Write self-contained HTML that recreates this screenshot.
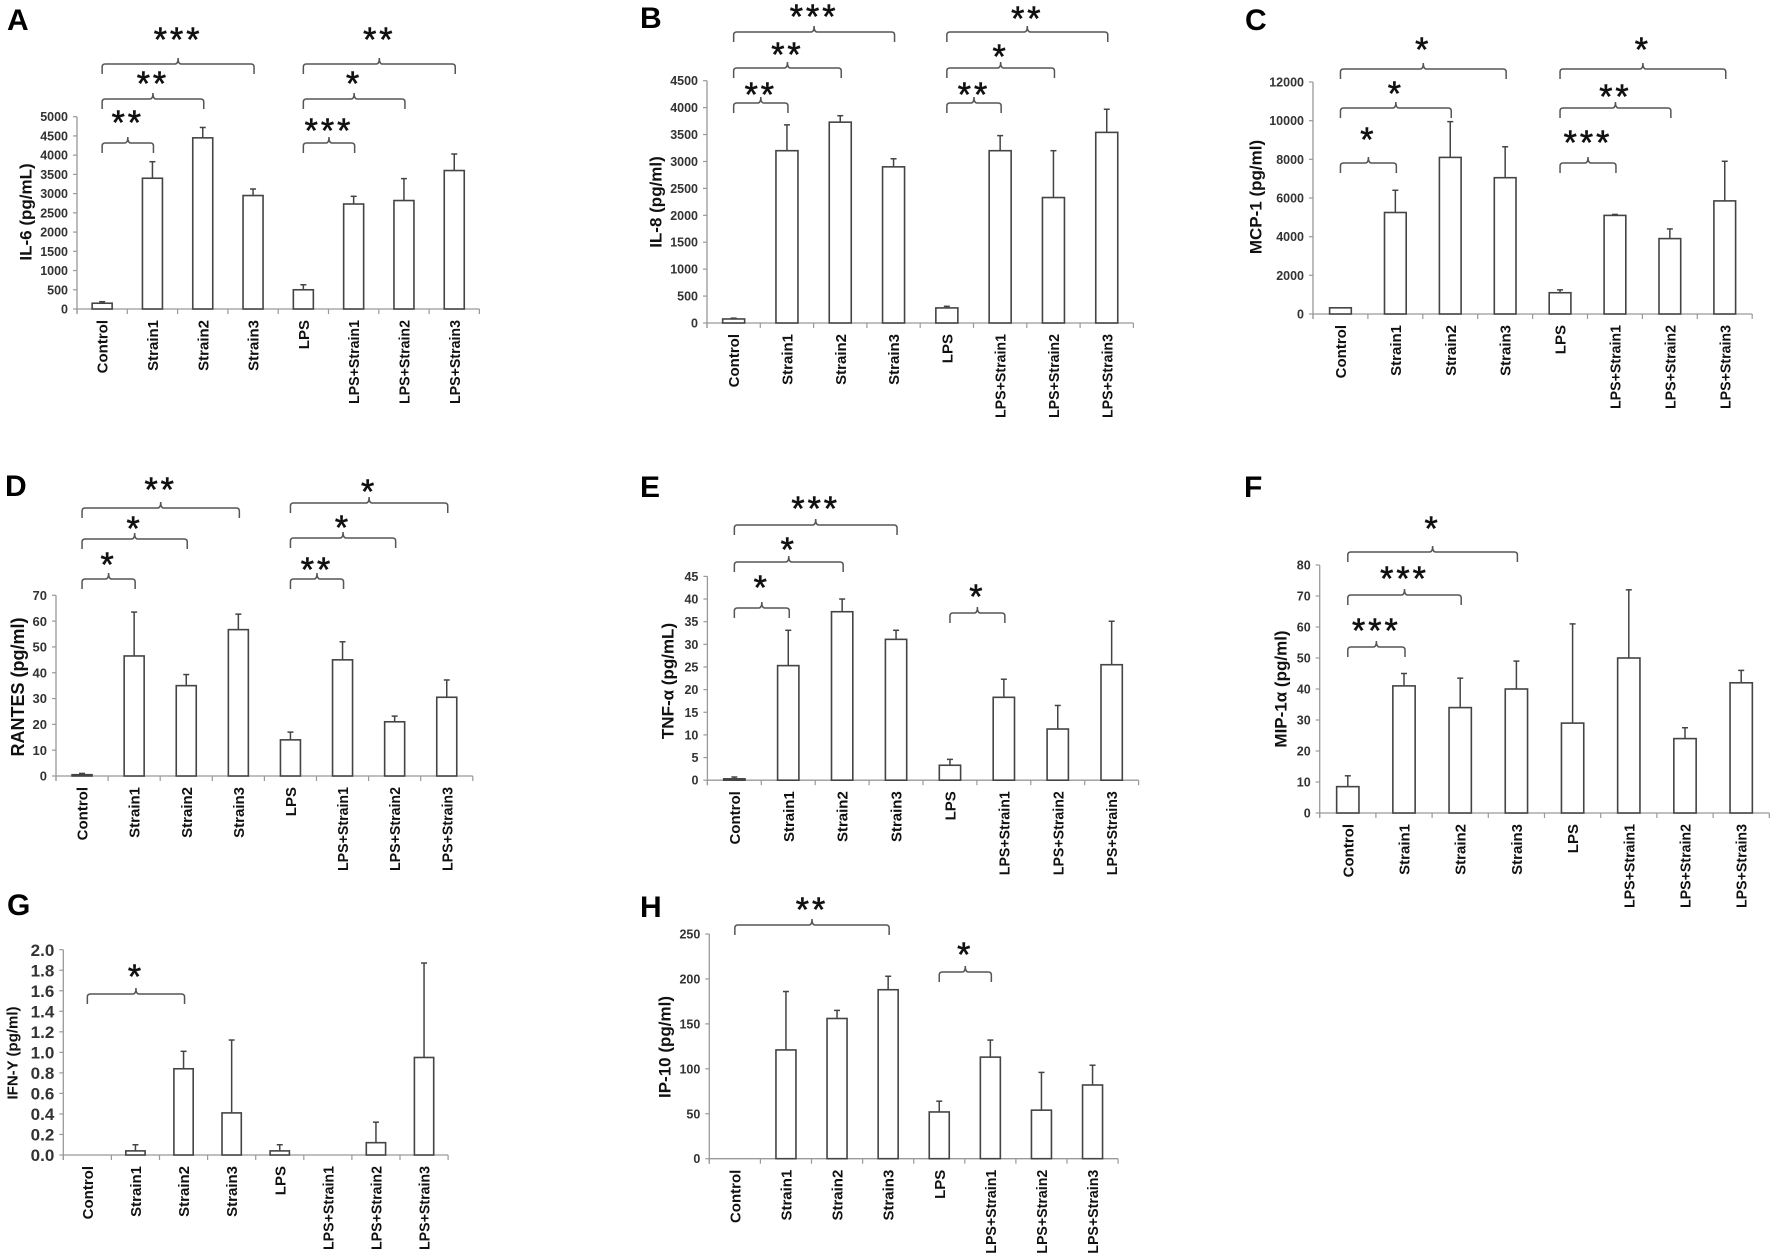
<!DOCTYPE html>
<html><head><meta charset="utf-8"><style>
html,body{margin:0;padding:0;background:#fff;}
svg{display:block;}
text{font-family:"Liberation Sans",Arial,sans-serif;}
</style></head><body>
<svg id="s" width="1772" height="1258" viewBox="0 0 1772 1258" xmlns="http://www.w3.org/2000/svg"></svg>
<script>
var cats=["Control","Strain1","Strain2","Strain3","LPS","LPS+Strain1","LPS+Strain2","LPS+Strain3"];
var P=[
{L:"A",lx:7,ly:30,ax:77,y0:309,yt:116.7,max:5000,step:500,sp:50.3,bw:20,dec:0,tf:12.5,
 v:[150,3400,4450,2950,500,2730,2820,3600],e:[40,430,270,170,130,200,570,430],
 yl:"IL-6 (pg/mL)",ylx:26,yly:212,ylf:17,
 br:[[0,1,143,2,116],[0,2,99,2,77],[0,3,64,3,33],[4,5,143,3,124],[4,6,99,1,77],[4,7,64,2,33]]},
{L:"B",lx:640,ly:28,ax:707,y0:323,yt:80.7,max:4500,step:500,sp:53.3,bw:22,dec:0,tf:12.5,
 v:[75,3200,3730,2900,280,3200,2330,3540],e:[15,480,120,150,30,280,870,430],
 yl:"IL-8 (pg/ml)",ylx:656,yly:202,ylf:17,
 br:[[0,1,103,2,88],[0,2,68,2,48],[0,3,32,3,10],[4,5,103,2,88],[4,6,68,1,50],[4,7,32,2,12]]},
{L:"C",lx:1245,ly:30,ax:1313,y0:314,yt:82,max:12000,step:2000,sp:54.9,bw:21.7,dec:0,tf:12.5,
 v:[320,5250,8100,7050,1100,5100,3900,5850],e:[0,1150,1850,1600,150,50,500,2050],
 yl:"MCP-1 (pg/ml)",ylx:1256,yly:197,ylf:17,
 br:[[0,1,163,1,133],[0,2,108,1,87],[0,3,69,1,43],[4,5,163,3,136],[4,6,108,2,90],[4,7,69,1,43]]},
{L:"D",lx:5,ly:496,ax:56,y0:776,yt:595.3,max:70,step:10,sp:52.1,bw:20,dec:0,tf:13,
 v:[0.5,46.5,35,56.7,14,45,21,30.5],e:[0.5,17,4.3,6,3,7,2.2,6.7],
 yl:"RANTES (pg/ml)",ylx:18,yly:687,ylf:18,
 br:[[0,1,579,1,558],[0,2,539,1,522],[0,3,508,2,483],[4,5,579,2,563],[4,6,538,1,521],[4,7,503,1,485]]},
{L:"E",lx:640,ly:497,ax:707.4,y0:780.2,yt:576.4,max:45,step:5,sp:53.9,bw:21.3,dec:0,tf:12.5,
 v:[0.3,25.3,37.2,31.1,3.3,18.3,11.3,25.5],e:[0.4,7.8,2.8,2,1.3,4,5.2,9.6],
 yl:"TNF-\u03B1 (pg/mL)",ylx:668,yly:681,ylf:17,
 br:[[0,1,608,1,581],[0,2,562,1,543],[0,3,525,3,502],[4,5,613,1,590]]},
{L:"F",lx:1244,ly:497,ax:1319.7,y0:813,yt:565,max:80,step:10,sp:56.2,bw:22.3,dec:0,tf:12.5,
 v:[8.5,41,34,40,29,50,24,42],e:[3.5,4,9.5,9,32,22,3.5,4],
 yl:"MIP-1\u03B1 (pg/ml)",ylx:1281,yly:689,ylf:17,
 br:[[0,1,647,3,624],[0,2,595,3,572],[0,3,552,1,522]]},
{L:"G",lx:7,ly:915,ax:63.3,y0:1155,yt:949.7,max:2,step:0.2,sp:48.1,bw:19.3,dec:1,tf:17,
 v:[0,0.04,0.84,0.41,0.04,0,0.12,0.95],e:[0,0.06,0.17,0.71,0.06,0,0.2,0.92],
 yl:"IFN-Y (pg/ml)",ylx:13,yly:1053,ylf:15,
 br:[[0,2,994,1,970]]},
{L:"H",lx:640,ly:917,ax:709.3,y0:1158.7,yt:934,max:250,step:50,sp:51.1,bw:20,dec:0,tf:12.5,
 v:[0,121,156,188,52,113,54,82],e:[0,65,9,15,12,19,42,22],
 yl:"IP-10 (pg/ml)",ylx:665,yly:1047,ylf:17,
 br:[[0,3,925,2,903],[4,5,972,1,948]]}
];
var o=[];
P.forEach(function(p){
 var sc=(p.y0-p.yt)/p.max, xe=p.ax+8*p.sp;
 function Y(v){return p.y0-v*sc;}
 function cx(i){return p.ax+(i+0.5)*p.sp;}
 o.push('<text x="'+p.lx+'" y="'+p.ly+'" font-size="30" font-weight="bold" fill="#000">'+p.L+'</text>');
 o.push('<line x1="'+p.ax+'" y1="'+p.yt+'" x2="'+p.ax+'" y2="'+(p.y0+5)+'" stroke="#999" stroke-width="1.3"/>');
 o.push('<line x1="'+p.ax+'" y1="'+p.y0+'" x2="'+xe+'" y2="'+p.y0+'" stroke="#999" stroke-width="1.3"/>');
 for(var i=0;i<=8;i++){var x=p.ax+i*p.sp;o.push('<line x1="'+x+'" y1="'+p.y0+'" x2="'+x+'" y2="'+(p.y0+5)+'" stroke="#999" stroke-width="1.2"/>');}
 var n=Math.round(p.max/p.step);
 for(var k=0;k<=n;k++){var v=k*p.step,y=Y(v);
  o.push('<line x1="'+(p.ax-4)+'" y1="'+y+'" x2="'+p.ax+'" y2="'+y+'" stroke="#999" stroke-width="1.2"/>');
  o.push('<text x="'+(p.ax-9)+'" y="'+(y+p.tf*0.36)+'" font-size="'+p.tf+'" font-weight="bold" fill="#333" text-anchor="end">'+v.toFixed(p.dec)+'</text>');}
 o.push('<text transform="translate('+p.ylx+','+p.yly+') rotate(-90)" font-size="'+p.ylf+'" font-weight="bold" fill="#111" text-anchor="middle" dominant-baseline="central">'+p.yl+'</text>');
 for(var i=0;i<8;i++){var c=cx(i);
  var tl=(i>=5)?' textLength="84" lengthAdjust="spacingAndGlyphs"':'';
  o.push('<text transform="translate('+(c+5.5)+','+(p.y0+11)+') rotate(-90)" font-size="15" font-weight="bold" fill="#111" text-anchor="end"'+tl+'>'+cats[i]+'</text>');
  if(p.v[i]>0){var t=Y(p.v[i]);
   o.push('<rect x="'+(c-p.bw/2)+'" y="'+t+'" width="'+p.bw+'" height="'+(p.y0-t)+'" fill="#fff" stroke="#444" stroke-width="1.6"/>');
   if(p.e[i]>0){var te=Y(p.v[i]+p.e[i]);
    o.push('<line x1="'+c+'" y1="'+t+'" x2="'+c+'" y2="'+te+'" stroke="#444" stroke-width="1.5"/>');
    o.push('<line x1="'+(c-3)+'" y1="'+te+'" x2="'+(c+3)+'" y2="'+te+'" stroke="#444" stroke-width="1.5"/>');}
  }
 }
 p.br.forEach(function(b){
  var x1=cx(b[0]),x2=cx(b[1])+1,y=b[2],m=(x1+x2)/2;
  o.push('<path d="M'+x1+','+(y+10)+' L'+x1+','+(y+3)+' Q'+x1+','+y+' '+(x1+3)+','+y+' L'+(m-3)+','+y+' Q'+m+','+y+' '+m+','+(y-6)+' Q'+m+','+y+' '+(m+3)+','+y+' L'+(x2-3)+','+y+' Q'+x2+','+y+' '+x2+','+(y+3)+' L'+x2+','+(y+10)+'" fill="none" stroke="#555" stroke-width="1.5"/>');
  var s='';for(var j=0;j<b[3];j++)s+='*';
  o.push('<text x="'+m+'" y="'+(b[4]+18)+'" font-size="34" fill="#111" stroke="#111" stroke-width="0.6" text-anchor="middle" letter-spacing="3">'+s+'</text>');
 });
});
document.getElementById('s').innerHTML=o.join('');
</script>
</body></html>
